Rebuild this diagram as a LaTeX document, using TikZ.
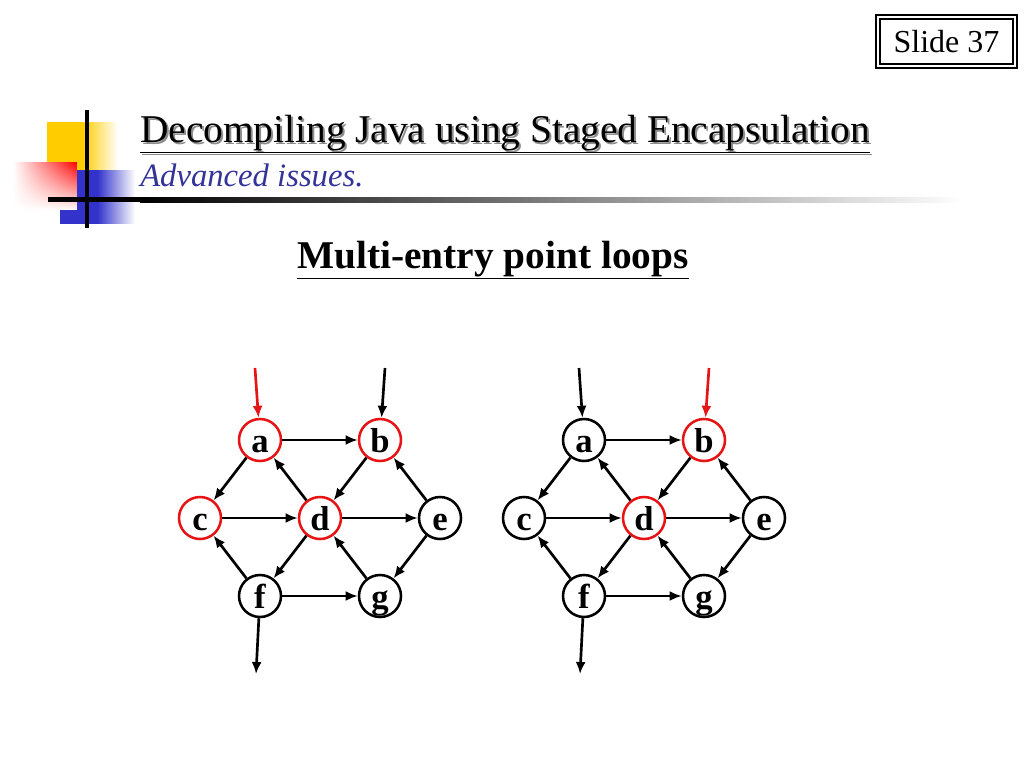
\documentclass[tikz,border=0pt]{standalone}
\usepackage{fontspec}
\setmainfont{Liberation Serif}
\usetikzlibrary{arrows.meta,fadings}
\definecolor{titleblue}{RGB}{51,51,153}
\definecolor{decoyellow}{RGB}{255,204,0}
\definecolor{decoblue}{RGB}{51,51,204}
\definecolor{nodered}{RGB}{230,20,20}
\begin{document}
\begin{tikzpicture}[x=0.75pt,y=-0.75pt,
  vtx/.style={circle,draw=black,line width=1.9pt,minimum size=31.5pt,inner sep=0pt,fill=white,text height=18pt,text depth=0pt,font=\fontsize{26}{26}\selectfont\bfseries},
  hot/.style={draw=nodered},
  edge/.style={line width=2pt,-{Latex[length=9pt,width=7.5pt]}},
  redge/.style={edge,draw=nodered,-{Latex[length=9pt,width=7.5pt,color=nodered]}}
]
\useasboundingbox (0,0) rectangle (1024,768);
% decoration
\shade[left color=decoyellow,right color=white,middle color=decoyellow] (47,122) rectangle (118,172);
\shade[left color=decoblue,right color=white,middle color=decoblue] (60,170) rectangle (135,223);
\fill[white] (13,162) rectangle (77,210);
\shade[left color=white,right color=red,path fading=south] (13,162) rectangle (77,210);
\fill[black] (85,110) rectangle (89,228);
\fill[black] (48,197) rectangle (140,202);
\shade[left color=black,right color=white] (140,197) rectangle (965,202);
% slide number
\draw[line width=0.8pt] (876,15) rectangle (1017,68);
\draw[line width=0.8pt] (880,19) rectangle (1013,64);
\node[font=\fontsize{24}{24}\selectfont] (slide) at (946.5,42) {Slide 37};
% titles
\node[anchor=base west,inner sep=0pt,text=black!45,font=\fontsize{29.5}{29.5}\selectfont] (tshadow) at (142,144) {\underline{Decompiling Java using Staged Encapsulation}};
\node[anchor=base west,inner sep=0pt,font=\fontsize{29.5}{29.5}\selectfont] (title) at (140,142) {\underline{Decompiling Java using Staged Encapsulation}};
\node[anchor=base west,inner sep=0pt,text=titleblue,font=\fontsize{24.5}{24.5}\selectfont\itshape] (sub) at (140,186) {Advanced issues.};
\node[anchor=base,inner sep=0pt,font=\fontsize{29.5}{29.5}\selectfont\bfseries] (head) at (493,268) {\underline{Multi-entry point loops}};
% left graph
\node[vtx,hot] (a) at (260,440) {a};
\node[vtx,hot] (b) at (380,440) {b};
\node[vtx,hot] (c) at (200,518) {c};
\node[vtx,hot] (d) at (320,518) {d};
\node[vtx] (e) at (440,518) {e};
\node[vtx] (f) at (260,596) {f};
\node[vtx] (g) at (380,596) {g};
\coordinate (ina) at (255,368);
\coordinate (inb) at (385,368);
\coordinate (outf) at (256,674);
\draw[redge] (ina) -- (a);
\draw[edge] (inb) -- (b);
\draw[edge] (f) -- (outf);
\foreach \s/\t in {a/b,a/c,d/a,b/d,e/b,c/d,d/e,f/c,d/f,e/g,g/d,f/g}
  \draw[edge] (\s) -- (\t);
% right graph
\node[vtx] (a2) at (584,440) {a};
\node[vtx,hot] (b2) at (704,440) {b};
\node[vtx] (c2) at (524,518) {c};
\node[vtx,hot] (d2) at (644,518) {d};
\node[vtx] (e2) at (764,518) {e};
\node[vtx] (f2) at (584,596) {f};
\node[vtx] (g2) at (704,596) {g};
\coordinate (ina2) at (579,368);
\coordinate (inb2) at (709,368);
\coordinate (outf2) at (580,674);
\draw[edge] (ina2) -- (a2);
\draw[redge] (inb2) -- (b2);
\draw[edge] (f2) -- (outf2);
\foreach \s/\t in {a2/b2,a2/c2,d2/a2,b2/d2,e2/b2,c2/d2,d2/e2,f2/c2,d2/f2,e2/g2,g2/d2,f2/g2}
  \draw[edge] (\s) -- (\t);
\end{tikzpicture}
\end{document}
